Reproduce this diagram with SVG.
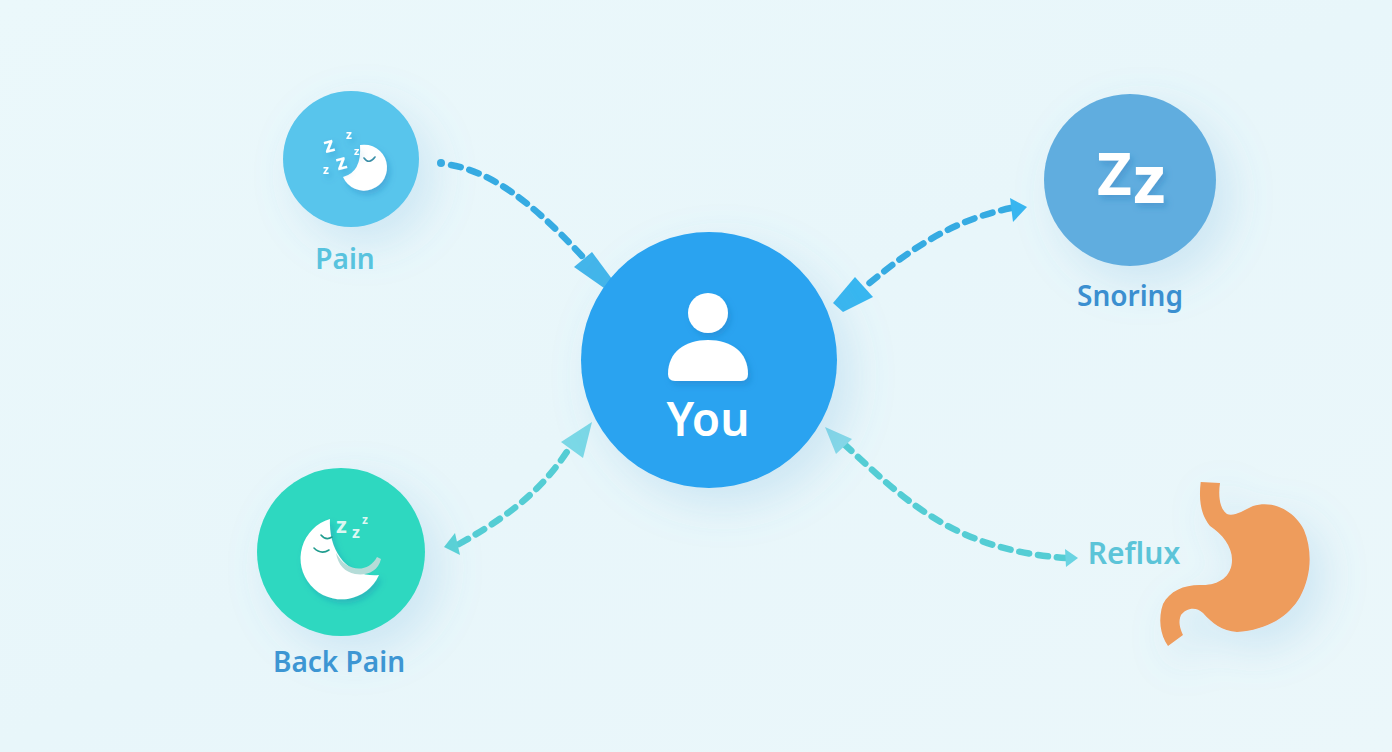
<svg xmlns="http://www.w3.org/2000/svg" width="1392" height="752" viewBox="0 0 1392 752">
<style>
text{font-family:"Noto Sans","Open Sans","Liberation Sans",sans-serif}
.lbl{font-size:28px;font-weight:600;text-anchor:middle}
.d{fill:none;stroke-linecap:round}
.blue{stroke:#36abe2;stroke-width:6.500;stroke-dasharray:10 9}
.teal{stroke:#54cdd4;stroke-width:6.500;stroke-dasharray:10 9}
.zw{fill:#fff;font-weight:700}
.eye{fill:none;stroke-linecap:round;stroke-width:1.6}
</style>
<defs>
<linearGradient id="bg" x1="0" y1="0" x2="1" y2="1"><stop offset="0" stop-color="#ebf8fb"/><stop offset=".5" stop-color="#e8f6fa"/><stop offset="1" stop-color="#ebf7fa"/></linearGradient>
<filter id="sh" x="-50%" y="-50%" width="220%" height="220%"><feDropShadow dx="14" dy="16" stdDeviation="22" flood-color="#5aa6d8" flood-opacity=".2"/></filter>
<filter id="sm" x="-30%" y="-30%" width="170%" height="170%"><feDropShadow dx="3" dy="4" stdDeviation="3" flood-color="#1a6fb0" flood-opacity=".3"/></filter>
</defs>
<rect width="1392" height="752" fill="url(#bg)"/>
<g id="connectors">
<circle cx="441" cy="163" r="4" fill="#36abe2"/>
<path class="d blue" d="M451,165 C490,172 530,200 582,256"/>
<polygon points="592,252 612,279 604,288 574,267" fill="#43b5ea"/>
<path class="d blue" d="M1011,208 C955,220 915,245 866,286"/>
<polygon points="1010,198 1027,207 1013,222" fill="#38b6f0"/>
<polygon points="833,303 855,277 873,297 843,312" fill="#38b6f0"/>
<path class="d teal" d="M459,544 C520,510 548,482 572,444"/>
<polygon points="592,422 561,442 583,458" fill="#7bd8e6"/>
<polygon points="444,547 455,533 460,555" fill="#5ad2d6"/>
<path class="d teal" d="M844,444 C900,495 950,550 1066,558"/>
<polygon points="825,427 852,439 836,454" fill="#86d9e8"/>
<polygon points="1065,549 1078,558 1066,567" fill="#6ad4e2"/>
</g>
<g id="pain">
<circle cx="351" cy="159" r="68" fill="#58c5ec" filter="url(#sh)"/>
<g filter="url(#sm)"><path d="M360,145 A23,23 0 1 1 343,177 Q362,172 360,145Z" fill="#fff"/></g>
<path class="eye" stroke="#3a8fa8" d="M364,158 Q369,165 375,157"/>
<g filter="url(#sm)">
<text class="zw" x="324" y="152" font-size="21" transform="rotate(-15 330 146)">z</text>
<text class="zw" x="336" y="169" font-size="21" transform="rotate(-15 343 162)">z</text>
<text class="zw" x="346" y="139" font-size="12">z</text>
<text class="zw" x="354" y="155" font-size="11">z</text>
<text class="zw" x="323" y="174" font-size="12">z</text>
</g>
<text class="lbl" x="345" y="269" fill="#58c3de">Pain</text>
</g>
<g id="snoring">
<circle cx="1130" cy="180" r="86" fill="#61addf" filter="url(#sh)"/>
<text class="zw" filter="url(#sm)" font-size="60"><tspan x="1097" y="195">Z</tspan><tspan x="1133" y="203" font-size="66">z</tspan></text>
<text class="lbl" x="1130" y="306" fill="#3b8fd0">Snoring</text>
</g>
<g id="you">
<circle cx="709" cy="360" r="128" fill="#29a3f0" filter="url(#sh)"/>
<g filter="url(#sm)"><circle cx="708" cy="313" r="20" fill="#fff"/>
<path d="M668,374 C668,352 685,340 708,340 C731,340 748,352 748,374 Q748,381 741,381 L675,381 Q668,381 668,374Z" fill="#fff"/></g>
<text x="708" y="436" font-size="46" font-weight="600" text-anchor="middle" fill="#fff">You</text>
</g>
<g id="back-pain">
<circle cx="341" cy="552" r="84" fill="#2fd8c0" filter="url(#sh)"/>
<g filter="url(#sm)"><path d="M330,519 A41,41 0 1 0 379,575 C352,578 328,555 330,519Z" fill="#fff"/></g>
<path d="M336,553 C346,572 368,574 377,557 L381,559 C378,572 366,576 355,574 C345,572 338,565 336,553Z" fill="#b5dcd8"/>
<path class="eye" stroke="#1f9c8e" d="M314,548 Q321,555 329,550"/>
<path class="eye" stroke="#1f9c8e" d="M321,535 Q326,541 332,537"/>
<text class="zw" font-size="22" style="fill:#dcf7f2"><tspan x="336" y="533">z</tspan><tspan x="362" y="524" font-size="12">z</tspan><tspan x="352" y="538" font-size="16">z</tspan></text>
<text class="lbl" x="339" y="672" fill="#3d96d3">Back Pain</text>
</g>
<g id="reflux">
<path filter="url(#sh)" fill="#ee9c5c" d="M1200.700,482 L1220,483 C1218,497 1220,509 1227,514 C1233,517 1243,511 1253,506 C1277,499 1297,515 1304,530 C1313,552 1311,577 1300,597 C1289,616 1268,630 1237,632 C1222,631 1212,623 1203,613 C1196,606 1186,608 1181,615 C1178,622 1180,628 1183,635 L1168,646 C1160,635 1158,618 1163,604 C1170,590 1186,584 1203,585 C1218,585 1232,577 1232,560 C1232,546 1222,534 1210,526 C1203,517 1198,505 1200.700,482Z"/>
<text class="lbl" x="1134" y="564" style="font-size:30px" fill="#5cc4d8">Reflux</text>
</g>
</svg>
